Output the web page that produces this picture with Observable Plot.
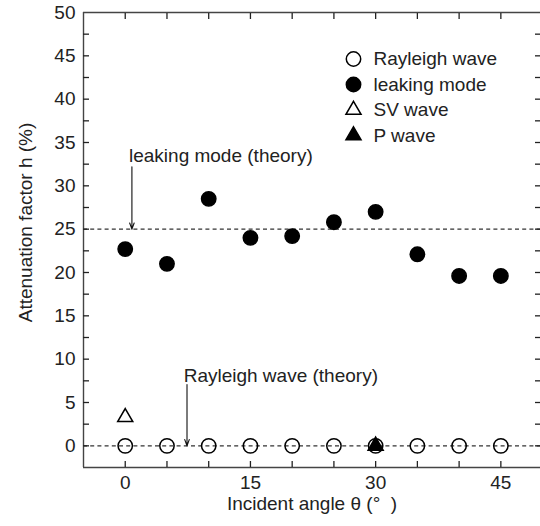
<!DOCTYPE html>
<html><head><meta charset="utf-8">
<script src="https://cdn.jsdelivr.net/npm/d3@7"></script>
<script src="https://cdn.jsdelivr.net/npm/@observablehq/plot@0.6"></script>
<style>body{margin:0;background:#fff}</style>
</head><body><div id="chart"></div>
<script>
// ---- data ----
const angles = [0, 5, 10, 15, 20, 25, 30, 35, 40, 45];
const rayleighWave = [0, 0, 0, 0, 0, 0, 0, 0, 0, 0];
const leakingMode = [22.7, 21.0, 28.5, 24.0, 24.2, 25.8, 27.0, 22.1, 19.6, 19.6];
const svAngles = [0];
const svWave = [3.3];
const pAngles = [30];
const pWave = [0];
const theoryLevels = [25, 0];
const annotationTexts = ["leaking mode (theory)", "Rayleigh wave (theory)"];
const annotationTextX = [0.45, 7.0];
const annotationTextY = [32.7, 7.34];
const annotationArrowX = [0.8, 7.4];
const annotationArrowFrom = [32.2, 7.07];
const annotationArrowTo = [25, 0];
const xTickLabels = [0, 15, 30, 45];
const xTicks = [0, 5, 10, 15, 20, 25, 30, 35, 40, 45];
const yTickLabels = [0, 5, 10, 15, 20, 25, 30, 35, 40, 45, 50];
const yTicks = [0, 2.5, 5, 7.5, 10, 12.5, 15, 17.5, 20, 22.5, 25, 27.5, 30, 32.5, 35, 37.5, 40, 42.5, 45, 47.5];
const legendNames = ["Rayleigh wave", "leaking mode", "SV wave", "P wave"];
const legendSymbols = ["circle", "circle", "triangle", "triangle"];
const legendFilled = [false, true, false, true];
const xLabel = "Incident angle \u03b8 (\u00b0\u00a0\u00a0)";
const yLabel = "Attenuation factor h (%)";

// ---- tables ----
const rayleighData = angles.map((a, i) => ({angle: a, h: rayleighWave[i]}));
const leakingData = angles.map((a, i) => ({angle: a, h: leakingMode[i]}));
const svData = svAngles.map((a, i) => ({angle: a, h: svWave[i]}));
const pData = pAngles.map((a, i) => ({angle: a, h: pWave[i]}));
const annData = annotationTexts.map((t, i) => ({
  text: t, tx: annotationTextX[i], ty: annotationTextY[i],
  ax: annotationArrowX[i], y1: annotationArrowFrom[i], y2: annotationArrowTo[i]
}));

const W = 540, H = 526, mL = 83, mR = 0, mT = 12, mB = 59;
const ink = "#222";
const lineInk = "#444";
const tickLen = 6;
const noText = () => "";

const legendMarks = legendNames.flatMap((name, i) => {
  const dy = 46.5 + i * 25.5;
  const isTri = legendSymbols[i] === "triangle";
  return [
    Plot.dot([name], {frameAnchor: "top-left", dx: 270, dy: dy, symbol: legendSymbols[i],
      r: isTri ? 5.6 : 7.2, fill: legendFilled[i] ? "#000" : "none", stroke: "#000", strokeWidth: 1.5}),
    Plot.text([name], {frameAnchor: "top-left", dx: 290, dy: dy, text: d => d,
      textAnchor: "start", lineAnchor: "middle", fontSize: 19, fill: ink})
  ];
});

const chart = Plot.plot({
  width: W, height: H,
  marginLeft: mL, marginRight: mR, marginTop: mT, marginBottom: mB,
  x: {domain: [-5, 49.75], axis: null},
  y: {domain: [-2.5, 50], axis: null},
  style: {fontFamily: "'Liberation Sans', Arial, sans-serif", fontSize: "19px", color: ink, background: "#fff"},
  marks: [
    // theory lines
    Plot.ruleY(theoryLevels, {y: d => d, stroke: "#333", strokeWidth: 1.3, strokeDasharray: "4,3.2"}),
    // frame
    Plot.ruleX([-5], {x: d => d, stroke: lineInk, strokeWidth: 1.4}),
    Plot.ruleY([-2.5, 50], {y: d => d, stroke: lineInk, strokeWidth: 1.4}),
    // inward ticks (shifted inside the frame)
    Plot.axisY(yTicks, {anchor: "left", tickSize: tickLen, dx: tickLen, tickFormat: noText, label: null, stroke: ink, strokeWidth: 1.3}),
    Plot.axisY(yTicks, {anchor: "right", tickSize: tickLen, dx: -tickLen, tickFormat: noText, label: null, stroke: ink, strokeWidth: 1.3}),
    Plot.axisX(xTicks, {anchor: "bottom", tickSize: tickLen, dy: -tickLen, tickFormat: noText, label: null, stroke: ink, strokeWidth: 1.3}),
    Plot.axisX(xTicks, {anchor: "top", tickSize: tickLen, dy: tickLen, tickFormat: noText, label: null, stroke: ink, strokeWidth: 1.3}),
    // tick labels
    Plot.axisY(yTickLabels, {anchor: "left", tickSize: 0, tickPadding: 8, fontSize: 19, label: null}),
    Plot.axisX(xTickLabels, {anchor: "bottom", tickSize: 0, tickPadding: 8, fontSize: 19, label: null}),
    // axis titles
    Plot.text([xLabel], {frameAnchor: "bottom", dy: 42, text: d => d, textAnchor: "middle", lineAnchor: "bottom", fontSize: 19, fill: ink}),
    Plot.text([yLabel], {frameAnchor: "left", dx: -58, dy: -17.5, rotate: -90, text: d => d, textAnchor: "middle", lineAnchor: "middle", fontSize: 19, fill: ink}),
    // annotations
    Plot.arrow(annData, {x1: "ax", x2: "ax", y1: "y1", y2: "y2", stroke: "#111", strokeWidth: 1.1, headLength: 9, headAngle: 40}),
    Plot.text(annData, {x: "tx", y: "ty", text: "text", textAnchor: "start", lineAnchor: "bottom", fontSize: 19, fill: ink}),
    // data
    Plot.dot(rayleighData, {x: "angle", y: "h", r: 7.2, fill: "none", stroke: "#000", strokeWidth: 1.5}),
    Plot.dot(leakingData, {x: "angle", y: "h", r: 7.2, fill: "#000", stroke: "#000"}),
    Plot.dot(svData, {x: "angle", y: "h", symbol: "triangle", r: 5.6, fill: "none", stroke: "#000", strokeWidth: 1.5}),
    Plot.dot(pData, {x: "angle", y: "h", symbol: "triangle", r: 5.6, fill: "#000", stroke: "#000", strokeWidth: 1.5}),
    ...legendMarks
  ]
});
document.getElementById("chart").appendChild(chart);
</script>
</body></html>
